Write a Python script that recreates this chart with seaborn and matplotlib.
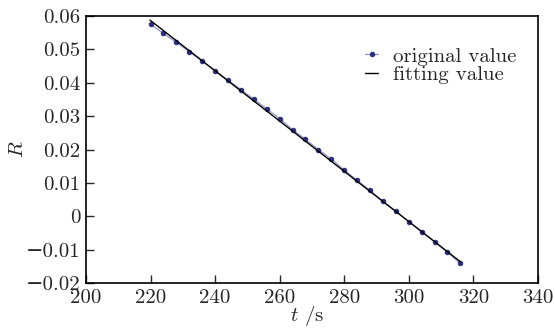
import pandas as pd
import matplotlib.pyplot as plt
import seaborn as sns

t_orig = [220, 224, 228, 232, 236, 240, 244, 248, 252, 256, 260, 264, 268,
          272, 276, 280, 284, 288, 292, 296, 300, 304, 308, 312, 316]
R_orig = [0.0575, 0.0548, 0.0521, 0.0493, 0.0465, 0.0436, 0.0408, 0.0380,
          0.0351, 0.0322, 0.0293, 0.0260, 0.0231, 0.0200, 0.0172, 0.0139,
          0.0108, 0.0078, 0.0045, 0.0016, -0.0016, -0.0046, -0.0076,
          -0.0108, -0.0141]

# fitted line end points
t_fit = [219.8, 316]
R_fit = [0.0588, -0.0136]

x_ticks = [200, 220, 240, 260, 280, 300, 320, 340]
y_ticks = [-0.02, -0.01, 0, 0.01, 0.02, 0.03, 0.04, 0.05, 0.06]
y_tick_labels = ['\u22120.02', '\u22120.01', '0', '0.01', '0.02', '0.03', '0.04', '0.05', '0.06']

orig = pd.DataFrame({'t': t_orig, 'R': R_orig})
fit = pd.DataFrame({'t': t_fit, 'R': R_fit})

sns.set_style('ticks')
plt.rcParams['font.family'] = ['cmr10', 'DejaVu Serif']
plt.rcParams['mathtext.fontset'] = 'cm'
plt.rcParams['axes.unicode_minus'] = False
plt.rcParams['axes.formatter.use_mathtext'] = True

fig = plt.figure(figsize=(5.55, 3.35), dpi=100)
ax = fig.add_axes([0.155, 0.155, 0.814, 0.797])

sns.lineplot(data=orig, x='t', y='R', ax=ax, color='#8a8cc4', lw=0.8,
             marker='o', markersize=3.2, markerfacecolor='#2b2f80',
             markeredgecolor='#2b2f80', label='original value')
sns.lineplot(data=fit, x='t', y='R', ax=ax, color='black', lw=1.0,
             label='fitting value')

ax.set_xlim(200, 340)
ax.set_ylim(-0.02, 0.06)
ax.set_xticks(x_ticks)
ax.set_xticklabels([str(v) for v in x_ticks])
ax.set_yticks(y_ticks)
ax.set_yticklabels(y_tick_labels)
ax.tick_params(direction='in', length=6, width=1.0, labelsize=15, pad=4)
for s in ax.spines.values():
    s.set_linewidth(1.2)
    s.set_color('black')

ax.set_xlabel('$t$ /s', fontsize=15)
ax.set_ylabel('$R$', fontsize=15)
ax.xaxis.set_label_coords(0.49, -0.08)
ax.yaxis.set_label_coords(-0.13, 0.5)

ax.legend(loc='upper left', bbox_to_anchor=(0.6, 0.915), frameon=False,
          fontsize=15, handlelength=0.6, handletextpad=0.7, labelspacing=0.0,
          borderaxespad=0)

fig.savefig('out.png', dpi=100)
